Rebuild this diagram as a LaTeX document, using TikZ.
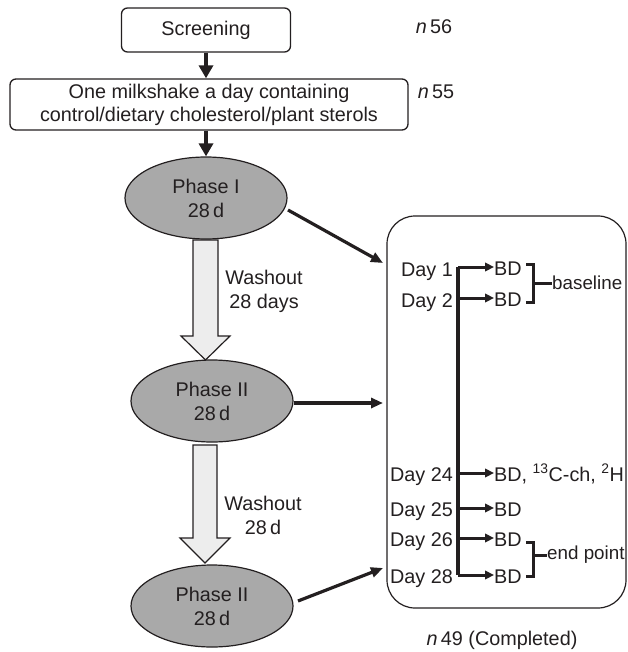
\documentclass[tikz,border=0pt]{standalone}
\usepackage{fontspec}
\setmainfont{Liberation Sans}
\usetikzlibrary{arrows.meta,calc,shapes.geometric}
\definecolor{ink}{HTML}{231F20}
\definecolor{ellgray}{HTML}{A9A9A9}
\definecolor{blkgray}{HTML}{EDEDED}
\begin{document}
\begin{tikzpicture}[x=1pt,y=-1pt,
  every node/.style={text=ink, font=\fontsize{19.8}{23}\selectfont, inner sep=0pt},
  boxnode/.style={draw=ink, line width=1.3pt, rounded corners=6pt, align=center},
  phase/.style={ellipse, draw=ink, line width=1.2pt, fill=ellgray, minimum width=162pt, minimum height=82pt, align=center, font=\fontsize{19.8}{24}\selectfont},
  bigarr/.style={draw=ink, line width=3.8pt, -{Triangle[length=13pt,width=14pt]}},
  slarr/.style={draw=ink, line width=3.2pt, -{Triangle[length=12pt,width=10pt]}},
  bdarr/.style={draw=ink, line width=3pt, -{Triangle[length=9pt,width=8.5pt]}},
  brk/.style={draw=ink, line width=3pt},
  blk/.style={draw=ink, line width=1.2pt, fill=blkgray, line join=miter},
  daylab/.style={anchor=base east},
  bdlab/.style={anchor=base west},
  brklab/.style={anchor=west, font=\fontsize{18.8}{22}\selectfont},
]
\useasboundingbox (0,0) rectangle (627,652);

% top boxes
\node[boxnode, minimum width=169pt, minimum height=44pt] (screen) at (206,30) {Screening};
\node[boxnode, minimum width=398pt, minimum height=51pt] (shake) at (209,104.5)
  {One milkshake a day containing\\control/dietary cholesterol/plant sterols};
\node (n56) at (434,27) {\textit{n}\,56};
\node (n55) at (436,92) {\textit{n}\,55};

% phases
\node[phase] (p1) at (206,198) {Phase I\\28\,d};
\node[phase] (p2) at (212,401) {Phase II\\28\,d};
\node[phase] (p3) at (212,606) {Phase II\\28\,d};

\draw[bigarr] (screen.south) -- (screen.south |- shake.north);
\draw[bigarr] (shake.south -| p1.north) -- (p1.north);

% washout block arrows
\draw[blk] (193,240) -- (218,240) -- (218,336) -- (230,336) -- (205.5,360) -- (181,336) -- (193,336) -- cycle;
\draw[blk] (193,445) -- (217,445) -- (217,538) -- (230,538) -- (205,563) -- (180,538) -- (193,538) -- cycle;
\node[align=center, font=\fontsize{19.8}{24}\selectfont] (w1) at (264,291) {Washout\\28 days};
\node[align=center, font=\fontsize{19.8}{24}\selectfont] (w2) at (263,515) {Washout\\28\,d};

% right panel
\node[draw=ink, line width=1.2pt, rounded corners=28pt, minimum width=239pt, minimum height=392pt] (panel) at (506.5,412) {};
\coordinate (e1) at (383,263);
\coordinate (e2) at (383,403);
\coordinate (e3) at (383,568);
\draw[slarr] (288,210) -- (e1);
\draw[slarr] (p2.east |- e2) -- (e2);
\draw[slarr] (298,601) -- (e3);

% timeline
\coordinate (v1) at (458,267);
\coordinate (v2) at (458,298);
\coordinate (v3) at (458,473);
\coordinate (v4) at (458,508);
\coordinate (v5) at (458,538);
\coordinate (v6) at (458,575);
\draw[draw=ink, line width=3.6pt, line cap=square] (v1) -- (v6);

\node[daylab] (d1) at (453,276) {Day 1};
\node[daylab] (d2) at (453,307) {Day 2};
\node[daylab] (d24) at (453,481) {Day 24};
\node[daylab] (d25) at (453,516) {Day 25};
\node[daylab] (d26) at (453,546) {Day 26};
\node[daylab] (d28) at (453,583) {Day 28};

\node[bdlab] (b1) at (494,275) {BD};
\node[bdlab] (b2) at (494,306) {BD};
\node[bdlab] (b24) at (494,481) {BD, \textsuperscript{13}C-ch, \textsuperscript{2}H};
\node[bdlab] (b25) at (494,516) {BD};
\node[bdlab] (b26) at (494,546) {BD};
\node[bdlab] (b28) at (494,583) {BD};

\draw[bdarr] (v1) -- (v1 -| b1.west);
\draw[bdarr] (v2) -- (v2 -| b2.west);
\draw[bdarr] (v3) -- (v3 -| b24.west);
\draw[bdarr] (v4) -- (v4 -| b25.west);
\draw[bdarr] (v5) -- (v5 -| b26.west);
\draw[bdarr] (v6) -- (v6 -| b28.west);

% brackets
\draw[brk] (526,264) -- (533,264) -- (533,302) -- (526,302);
\coordinate (bm1) at (533,283);
\node[brklab] (base) at (552,283) {baseline};
\draw[brk] (bm1) -- (base.west);
\draw[brk] (526,542) -- (533,542) -- (533,576) -- (526,576);
\coordinate (bm2) at (533,555);
\node[brklab] (endp) at (547,555) {end point};
\draw[brk] (bm2) -- (endp.west);

\node (n49) at (502,640) {\textit{n}\,49 (Completed)};
\end{tikzpicture}
\end{document}
